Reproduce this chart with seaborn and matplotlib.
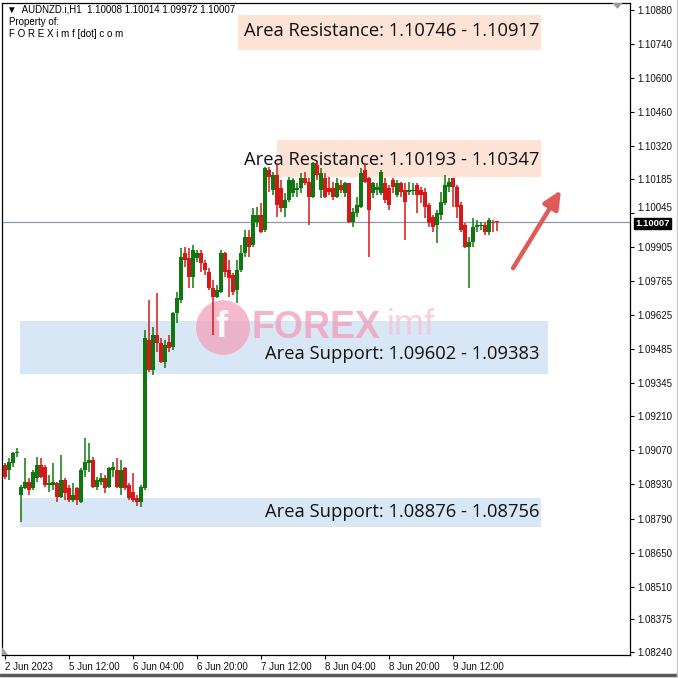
import numpy as np
import pandas as pd
import matplotlib
matplotlib.use("Agg")
import matplotlib.pyplot as plt
import seaborn as sns
from matplotlib.patches import Rectangle, Ellipse, Polygon
from matplotlib.lines import Line2D

# ---------------- data (AUDNZD H1) ----------------
open_ = [1.09010, 1.08989, 1.09018, 1.09059, 1.08887, 1.08915, 1.08940, 1.08915, 1.08956, 1.09010,
         1.09002, 1.08928, 1.08928, 1.08936, 1.08878, 1.08948, 1.08915, 1.08866, 1.08915, 1.08858,
         1.08989, 1.09018, 1.09030, 1.08919, 1.08940, 1.08956, 1.08919, 1.08989, 1.08989, 1.08915,
         1.08998, 1.08928, 1.08899, 1.08874, 1.08858, 1.08915, 1.09523, 1.09400, 1.09544, 1.09511,
         1.09433, 1.09515, 1.09495, 1.09635, 1.09688, 1.09881, 1.09861, 1.09783, 1.09861, 1.09881,
         1.09840, 1.09803, 1.09737, 1.09700, 1.09721, 1.09881, 1.09811, 1.09791, 1.09729, 1.09811,
         1.09881, 1.09947, 1.09914, 1.10009, 1.10037, 1.09976, 1.10222, 1.10140, 1.10202, 1.10148,
         1.10066, 1.10099, 1.10128, 1.10140, 1.10148, 1.10189, 1.10173, 1.10111, 1.10243, 1.10140,
         1.10189, 1.10148, 1.10148, 1.10111, 1.10161, 1.10128, 1.10169, 1.10009, 1.10046, 1.10070,
         1.10222, 1.10189, 1.10128, 1.10140, 1.10128, 1.10169, 1.10148, 1.10181, 1.10119, 1.10169,
         1.10140, 1.10132, 1.10136, 1.10161, 1.10140, 1.10132, 1.10078, 1.10029, 1.09996, 1.10037,
         1.10087, 1.10152, 1.10189, 1.10152, 1.10078, 1.09996, 1.09906, 1.09927, 1.09988, 1.09992,
         1.09996, 1.09968, 1.10009, 1.10008]
high = [1.09018, 1.09039, 1.09063, 1.09080, 1.08928, 1.09039, 1.08956, 1.08989, 1.09043, 1.09039,
        1.09010, 1.08969, 1.09018, 1.08940, 1.09051, 1.08956, 1.08928, 1.08936, 1.08919, 1.08998,
        1.09121, 1.09100, 1.09043, 1.08961, 1.08977, 1.08969, 1.09002, 1.09022, 1.09039, 1.09030,
        1.09002, 1.08936, 1.08977, 1.08887, 1.08928, 1.09565, 1.09688, 1.09577, 1.09717, 1.09532,
        1.09523, 1.09544, 1.09639, 1.09721, 1.09902, 1.09906, 1.09902, 1.09914, 1.09894, 1.09894,
        1.09852, 1.09820, 1.09770, 1.09750, 1.09894, 1.09885, 1.09852, 1.09799, 1.09852, 1.09914,
        1.09976, 1.09976, 1.10066, 1.10070, 1.10087, 1.10235, 1.10235, 1.10214, 1.10251, 1.10181,
        1.10128, 1.10194, 1.10189, 1.10169, 1.10210, 1.10214, 1.10189, 1.10255, 1.10255, 1.10231,
        1.10210, 1.10194, 1.10173, 1.10189, 1.10181, 1.10173, 1.10169, 1.10066, 1.10111, 1.10231,
        1.10251, 1.10194, 1.10173, 1.10169, 1.10222, 1.10189, 1.10161, 1.10189, 1.10181, 1.10173,
        1.10169, 1.10173, 1.10169, 1.10169, 1.10152, 1.10148, 1.10087, 1.10037, 1.10058, 1.10132,
        1.10202, 1.10189, 1.10189, 1.10161, 1.10091, 1.10005, 1.09947, 1.10025, 1.10017, 1.10009,
        1.10009, 1.10025, 1.10017, 1.10014]
low = [1.08952, 1.08948, 1.09002, 1.09043, 1.08776, 1.08911, 1.08887, 1.08907, 1.08940, 1.08956,
       1.08919, 1.08899, 1.08907, 1.08858, 1.08874, 1.08866, 1.08858, 1.08858, 1.08845, 1.08854,
       1.08961, 1.08981, 1.08915, 1.08907, 1.08928, 1.08895, 1.08915, 1.08961, 1.08915, 1.08887,
       1.08907, 1.08866, 1.08858, 1.08841, 1.08837, 1.08907, 1.09392, 1.09380, 1.09474, 1.09429,
       1.09409, 1.09474, 1.09483, 1.09593, 1.09676, 1.09824, 1.09737, 1.09737, 1.09844, 1.09803,
       1.09791, 1.09729, 1.09544, 1.09696, 1.09717, 1.09783, 1.09700, 1.09709, 1.09676, 1.09803,
       1.09865, 1.09865, 1.09906, 1.09988, 1.09963, 1.09968, 1.10132, 1.10119, 1.10029, 1.10050,
       1.10029, 1.10091, 1.10111, 1.10111, 1.10128, 1.10161, 1.09996, 1.10107, 1.10181, 1.10107,
       1.10107, 1.10119, 1.10099, 1.10107, 1.10128, 1.10111, 1.10005, 1.09988, 1.10029, 1.10066,
       1.10169, 1.09865, 1.10107, 1.10119, 1.10119, 1.10087, 1.10058, 1.10128, 1.10111, 1.10111,
       1.09935, 1.10119, 1.10119, 1.10046, 1.10087, 1.10025, 1.09988, 1.09968, 1.09922, 1.10017,
       1.10078, 1.10132, 1.10070, 1.10025, 1.09968, 1.09902, 1.09737, 1.09906, 1.09968, 1.09976,
       1.09955, 1.09955, 1.09968, 1.09972]
close = [1.08961, 1.09022, 1.09059, 1.09063, 1.08919, 1.08940, 1.08907, 1.08981, 1.09010, 1.08961,
         1.08928, 1.08936, 1.08940, 1.08878, 1.08948, 1.08895, 1.08866, 1.08887, 1.08866, 1.08989,
         1.09022, 1.09030, 1.08919, 1.08948, 1.08956, 1.08915, 1.08998, 1.09002, 1.08919, 1.08989,
         1.08915, 1.08874, 1.08866, 1.08858, 1.08919, 1.09532, 1.09400, 1.09544, 1.09511, 1.09433,
         1.09503, 1.09491, 1.09635, 1.09696, 1.09865, 1.09852, 1.09783, 1.09894, 1.09881, 1.09840,
         1.09811, 1.09737, 1.09700, 1.09729, 1.09881, 1.09803, 1.09778, 1.09721, 1.09811, 1.09881,
         1.09947, 1.09906, 1.10037, 1.10037, 1.09968, 1.10231, 1.10194, 1.10202, 1.10078, 1.10066,
         1.10099, 1.10181, 1.10181, 1.10148, 1.10189, 1.10169, 1.10111, 1.10251, 1.10202, 1.10210,
         1.10111, 1.10132, 1.10111, 1.10169, 1.10140, 1.10169, 1.10009, 1.10050, 1.10078, 1.10210,
         1.10173, 1.10058, 1.10169, 1.10152, 1.10214, 1.10099, 1.10078, 1.10152, 1.10169, 1.10132,
         1.10091, 1.10140, 1.10140, 1.10119, 1.10119, 1.10070, 1.10005, 1.09988, 1.10046, 1.10091,
         1.10161, 1.10173, 1.10152, 1.10070, 1.09976, 1.09906, 1.09927, 1.09988, 1.09996, 1.09996,
         1.09968, 1.10017, 1.10005, 1.10007]

time_tick_bars = [0, 16, 32, 48, 64, 80, 96, 112]
time_tick_labels = ["2 Jun 2023", "5 Jun 12:00", "6 Jun 04:00", "6 Jun 20:00",
                    "7 Jun 12:00", "8 Jun 04:00", "8 Jun 20:00", "9 Jun 12:00"]
price_ticks = [1.10880, 1.10740, 1.10600, 1.10460, 1.10320, 1.10185, 1.10045, 1.09905,
               1.09765, 1.09625, 1.09485, 1.09345, 1.09210, 1.09070, 1.08930, 1.08790,
               1.08650, 1.08510, 1.08375, 1.08240]
price_tick_labels = [f"{v:.5f}" for v in price_ticks]

zone_low = [1.10715, 1.10193, 1.09383, 1.08756]
zone_high = [1.10860, 1.10347, 1.09602, 1.08876]
zone_kind = ["res", "res", "sup", "sup"]
zone_text = ["Area Resistance: 1.10746 - 1.10917", "Area Resistance: 1.10193 - 1.10347",
             "Area Support: 1.09602 - 1.09383", "Area Support: 1.08876 - 1.08756"]

symbol = "AUDNZD.i,H1"
last_ohlc = ["1.10008", "1.10014", "1.09972", "1.10007"]
current_price = 1.10007

# ---------------- style ----------------
sns.set_theme(style="white")
plt.rcParams["font.family"] = ["Liberation Sans", "DejaVu Sans"]

GREEN = "#0e780e"
RED = "#d71818"

fig = plt.figure(figsize=(6.78, 6.78), dpi=100)
fig.patch.set_facecolor("white")
ax = fig.add_axes([2 / 678, 23 / 678, 628 / 678, 652 / 678])
ax.set_facecolor("white")
ax.set_xlim(-0.75, 156.25)
ax.set_ylim(1.08229, 1.10909)

df = pd.DataFrame({"bar": np.arange(len(open_)), "open": open_, "high": high,
                   "low": low, "close": close})
df["up"] = df["close"] >= df["open"]
df["color"] = np.where(df["up"], GREEN, RED)
df["body_lo"] = df[["open", "close"]].min(axis=1)
df["body_h"] = (df["close"] - df["open"]).abs().clip(lower=0.00004)

# zones
zone_x = {0: (58.3, 134.0), 1: (68.0, 134.0), 2: (3.75, 135.75), 3: (3.75, 134.0)}
for k in range(len(zone_low)):
    x0, x1 = zone_x[k]
    col = "#fce3d6" if zone_kind[k] == "res" else "#d8e7f6"
    ax.add_patch(Rectangle((x0, zone_low[k]), x1 - x0, zone_high[k] - zone_low[k],
                           facecolor=col, edgecolor="none", zorder=1))

# watermark
ax.add_patch(Ellipse((54.5, 1.09575), 13.5, 0.00225, facecolor="#f2a2bc",
                     edgecolor="none", alpha=0.75, zorder=1.5))
ax.text(54.0, 1.09575, "f", fontsize=26, fontweight="bold", color="white",
        ha="center", va="center", zorder=1.6, alpha=0.9)
ax.text(61.5, 1.09572, "FOREX", fontsize=27, fontweight="bold", color="#f29bb7",
        ha="left", va="center", zorder=1.6, alpha=0.75)
ax.text(95.5, 1.09585, "imf", fontsize=26, color="#f7c3d3",
        ha="left", va="center", zorder=1.6, alpha=0.8)

# zone labels
text_y = [1.10792, 1.10265, 1.09466, 1.08816]
for k in range(len(zone_text)):
    ax.text(133.6, text_y[k], zone_text[k], fontsize=13.2, color="#111111",
            ha="right", va="center", zorder=2, family=["Open Sans", "DejaVu Sans"])

# current price line
ax.axhline(current_price, color="#8a98a6", lw=0.9, zorder=2.5)

# candles
ax.vlines(df["bar"], df["low"], df["high"], colors=df["color"], lw=1.1, zorder=3)
ax.bar(df["bar"], df["body_h"], bottom=df["body_lo"], width=0.8,
       color=df["color"], linewidth=0, zorder=4)

# arrow
ax.annotate("", xy=(139.0, 1.10140), xytext=(127.0, 1.09819),
            arrowprops=dict(arrowstyle="-|>,head_length=0.9,head_width=0.42",
                            color="#e05a5a", lw=3.2, shrinkA=0, shrinkB=0),
            zorder=5)

# axes formatting
for s in ax.spines.values():
    s.set_visible(True)
    s.set_color("black")
    s.set_linewidth(0.9)
ax.yaxis.tick_right()
ax.set_yticks(price_ticks)
ax.set_yticklabels(price_tick_labels)
ax.set_xticks(time_tick_bars)
ax.set_xticklabels(time_tick_labels, ha="left")
ax.tick_params(axis="y", which="both", direction="out", length=3, width=0.8,
               color="black", labelsize=7, pad=2, labelcolor="#111111", right=True, left=False)
ax.tick_params(axis="x", which="both", direction="out", length=3, width=0.8,
               color="black", labelsize=7, pad=2, labelcolor="#111111", bottom=True)
for lbl, v in zip(ax.get_yticklabels(), price_ticks):
    if abs(v - 1.10045) < 1e-6:
        lbl.set_va("bottom")
ax.grid(False)

# current price label
ax.annotate(f"{current_price:.5f}", xy=(1.0, current_price),
            xycoords=("axes fraction", "data"), xytext=(4, -0.5), textcoords="offset points",
            fontsize=6.8, color="white", va="center", ha="left", fontweight="bold",
            bbox=dict(boxstyle="square,pad=0.12", facecolor="black", edgecolor="black"),
            zorder=10, annotation_clip=False)

# shift markers
ax.add_patch(Polygon([[0.972, 1.0], [0.988, 1.0], [0.980, 0.991]], closed=True,
                     transform=ax.transAxes, facecolor="#9a9a9a", edgecolor="none",
                     clip_on=False, zorder=6))
ax.add_patch(Polygon([[0.0, 0.0], [0.0, 0.012], [0.010, 0.0]], closed=True,
                     transform=ax.transAxes, facecolor="#a0a0a0", edgecolor="none",
                     clip_on=False, zorder=6))

# header
ax.text(0.008, 0.9905, "\u25bc  " + symbol + "  " + " ".join(last_ohlc),
        transform=ax.transAxes, fontsize=7, color="black", va="center", ha="left",
        family=["Liberation Sans", "DejaVu Sans"])
ax.text(0.011, 0.9715, "Property of:", transform=ax.transAxes, fontsize=7,
        color="black", va="center", ha="left")
ax.text(0.011, 0.953, "F O R E X i m f [dot] c o m", transform=ax.transAxes,
        fontsize=7, color="black", va="center", ha="left")

# window frame edges (bottom / right)
fig.add_artist(Line2D([0, 1], [0.004, 0.004], transform=fig.transFigure,
                      color="#5a5a5a", lw=2.5))
fig.add_artist(Line2D([0.998, 0.998], [0, 1], transform=fig.transFigure,
                      color="#c8c8c8", lw=1.0))

fig.savefig("out.png", dpi=100, facecolor="white")
